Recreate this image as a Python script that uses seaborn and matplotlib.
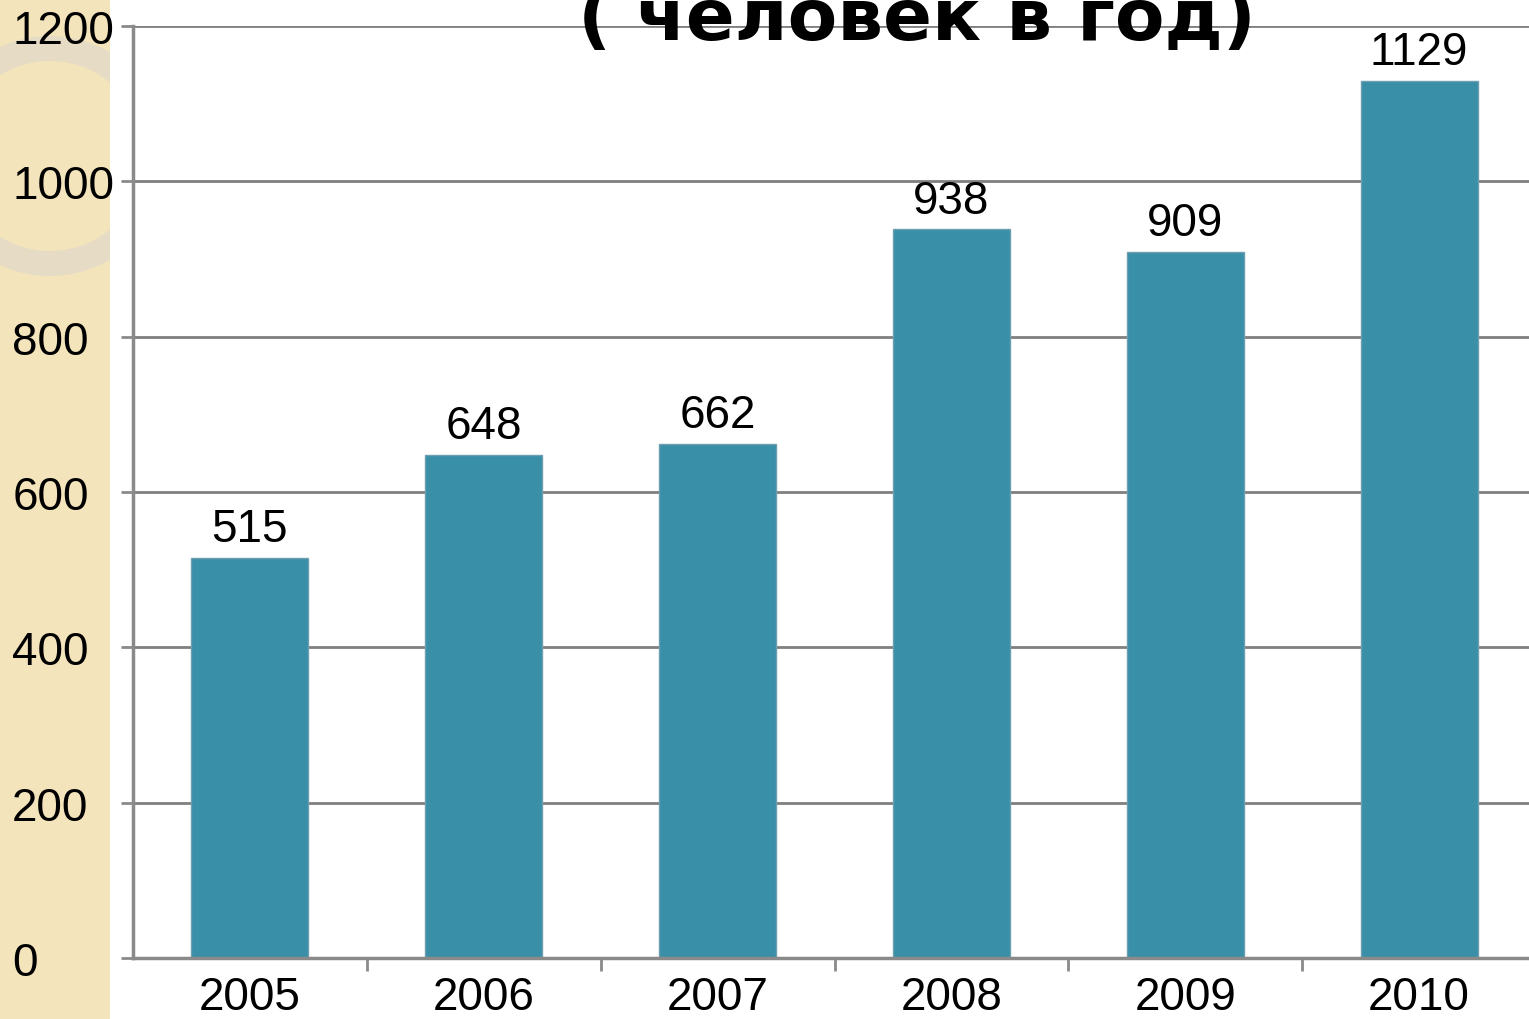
import pandas as pd
import matplotlib.pyplot as plt
import matplotlib.patches as mpatches
import seaborn as sns

# 데이터
years = ['2005', '2006', '2007', '2008', '2009', '2010']
values = [515, 648, 662, 938, 909, 1129]
yticks = [0, 200, 400, 600, 800, 1000, 1200]

df = pd.DataFrame({'year': years, 'value': values})

sns.set_style('white')
plt.rcParams['font.family'] = ['Liberation Sans', 'DejaVu Sans']
plt.rcParams['text.color'] = 'black'
plt.rcParams['xtick.color'] = 'black'
plt.rcParams['ytick.color'] = 'black'

fig = plt.figure(figsize=(15.29, 10.2), dpi=100)

# 왼쪽 베이지 띠 + 장식 원 (축 뒤에 그림)
strip = mpatches.Rectangle((0, 0), 110 / 1529, 1, transform=fig.transFigure,
                           facecolor='#f4e4bb', edgecolor='none', zorder=-2)
fig.patches.append(strip)
ring = mpatches.Ellipse((50 / 1529, 1 - 157 / 1020), 215 / 1529, 215 / 1020, transform=fig.transFigure,
                        facecolor='none', edgecolor='#e6dcc6', linewidth=18, zorder=-1)
ring.set_clip_path(strip)
fig.patches.append(ring)

ax = fig.add_axes([133 / 1529, 1 - 959 / 1020, 1 - 133 / 1529, (959 - 27) / 1020])
ax.patch.set_alpha(0)

sns.barplot(data=df, x='year', y='value', color='#3a8fa8', saturation=1, width=0.5, ax=ax,
            edgecolor='#6f9fae', linewidth=1)

ax.set_ylim(0, 1200)
ax.set_xlim(-0.5, 5.47)
ax.set_yticks(yticks)
ax.yaxis.grid(True, color='#7f7f7f', linewidth=2)
ax.set_axisbelow(True)
ax.set_xlabel('')
ax.set_ylabel('')

for s in ['top', 'right']:
    ax.spines[s].set_visible(False)
for s in ['left', 'bottom']:
    ax.spines[s].set_color('#8a8a8a')
    ax.spines[s].set_linewidth(2.5)

# y 눈금 라벨은 왼쪽 정렬 (x≈13px)
ax.tick_params(axis='y', left=True, labelsize=33, length=9, width=2, color='#8a8a8a',
               labelcolor='black', pad=78, direction='out')
for lbl in ax.get_yticklabels():
    lbl.set_horizontalalignment('left')
ax.tick_params(axis='x', labelsize=33, length=0, pad=12, labelcolor='black')
# 카테고리 사이 눈금
ax.set_xticks([i + 0.5 for i in range(5)], minor=True)
ax.tick_params(axis='x', which='minor', bottom=True, length=9, width=2, color='#8a8a8a', direction='out')

ax.bar_label(ax.containers[0], labels=[str(v) for v in values], fontsize=33, padding=5, color='black')

fig.text(917 / 1529, 1 - 40 / 1020, '( человек в год)', fontsize=52, fontweight='bold',
         family=['DejaVu Sans'], ha='center', va='baseline', color='black')

fig.savefig('out.png', dpi=100)
